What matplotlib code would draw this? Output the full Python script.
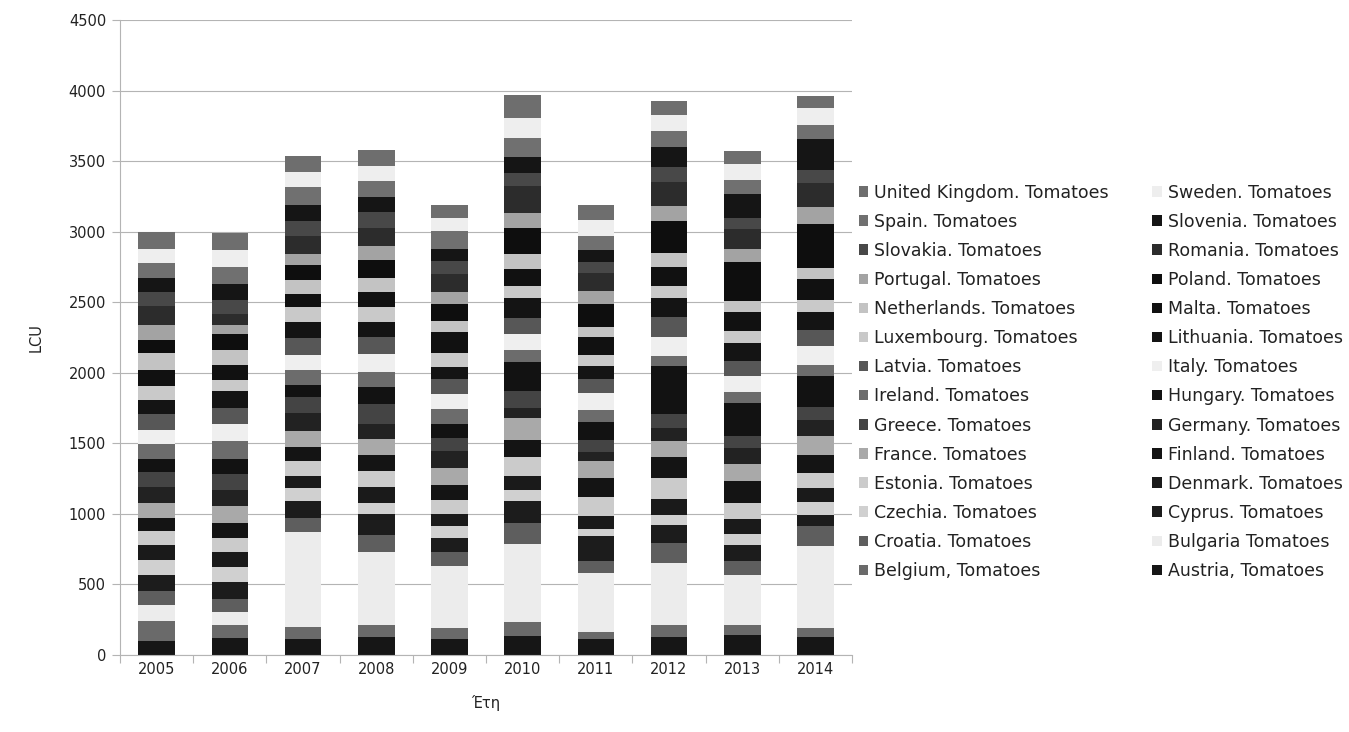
import matplotlib
matplotlib.use("Agg")
import matplotlib.pyplot as plt
import numpy as np

# ── Data (LCU, tomatoes, stacked bottom → top) ────────────────
years = ["2005", "2006", "2007", "2008", "2009", "2010", "2011", "2012", "2013", "2014"]

austria     = [100, 120, 110, 125, 110, 135, 110, 130, 140, 130]
belgium     = [140,  90,  90,  85,  80, 100,  50,  80,  70,  60]
bulgaria    = [115,  95, 670, 520, 440, 555, 420, 440, 360, 580]
croatia     = [100,  95, 100, 118,  97, 147,  83, 142,  95, 143]
cyprus      = [111, 118, 118, 149, 102, 153, 177, 129, 118,  78]
czechia     = [106, 106,  94,  81,  88,  80,  52,  70,  71,  91]
denmark     = [111, 106,  83, 114,  82, 102,  90, 111, 107, 104]
estonia     = [ 94,  99, 113, 114,  97, 128, 137, 155, 118, 104]
finland     = [ 94, 108,  99, 111, 112, 125, 135, 147, 154, 130]
france      = [108, 118, 113, 111, 114, 153, 118, 111, 118, 130]
germany     = [111, 111, 123, 109, 122,  75,  64,  96, 118, 117]
greece      = [106, 118, 118, 142,  97, 120,  90,  98,  83,  91]
hungary     = [ 94, 106,  83, 118,  97, 206, 123, 341, 237, 221]
ireland     = [106, 130, 106, 111, 105,  80,  90,  72,  76,  78]
italy       = [101, 118, 106, 126, 107, 115, 118, 135, 114, 130]
latvia      = [111, 111, 118, 118, 105, 115,  99, 137, 107, 117]
lithuania   = [101, 125, 118, 111,  85, 139,  90, 137, 123, 125]
luxembourg  = [ 94,  78, 101, 102, 102,  86,  83,  83,  90,  88]
malta       = [118, 104,  94, 107, 146, 123, 125, 135, 130, 145]
netherlands = [118, 108,  99,  99,  80, 106,  71,  98,  83,  78]
poland      = [ 94, 111, 106, 130, 122, 186, 165, 228, 272, 312]
portugal    = [104,  64,  78,  95,  85, 106,  87, 109,  95, 122]
romania     = [137,  78, 128, 130, 122, 186, 130, 168, 142, 174]
slovakia    = [ 95, 101, 109, 111,  93,  98,  76, 103,  76,  86]
slovenia    = [100, 111, 111, 109,  90, 112,  90, 147, 173, 221]
spain       = [108, 118, 125, 111, 122, 136,  94, 111,  95, 104]
sweden      = [100, 125, 111, 107,  97, 139, 118, 111, 118, 117]
uk          = [118, 120, 111, 114,  93, 165, 106, 103,  88,  86]

labels = [
    "Austria, Tomatoes", "Belgium, Tomatoes", "Bulgaria Tomatoes", "Croatia. Tomatoes",
    "Cyprus. Tomatoes", "Czechia. Tomatoes", "Denmark. Tomatoes", "Estonia. Tomatoes",
    "Finland. Tomatoes", "France. Tomatoes", "Germany. Tomatoes", "Greece. Tomatoes",
    "Hungary. Tomatoes", "Ireland. Tomatoes", "Italy. Tomatoes", "Latvia. Tomatoes",
    "Lithuania. Tomatoes", "Luxembourg. Tomatoes", "Malta. Tomatoes", "Netherlands. Tomatoes",
    "Poland. Tomatoes", "Portugal. Tomatoes", "Romania. Tomatoes", "Slovakia. Tomatoes",
    "Slovenia. Tomatoes", "Spain. Tomatoes", "Sweden. Tomatoes", "United Kingdom. Tomatoes",
]

series = [austria, belgium, bulgaria, croatia, cyprus, czechia, denmark, estonia,
          finland, france, germany, greece, hungary, ireland, italy, latvia,
          lithuania, luxembourg, malta, netherlands, poland, portugal, romania,
          slovakia, slovenia, spain, sweden, uk]

# greyscale fills, same order as the series
shades = [
    "#161616", "#6a6a6a", "#ececec", "#5e5e5e", "#1c1c1c", "#d0d0d0", "#1a1a1a",
    "#cbcbcb", "#141414", "#a9a9a9", "#222222", "#444444", "#121212", "#6c6c6c",
    "#efefef", "#575757", "#141414", "#c9c9c9", "#111111", "#c3c3c3", "#0e0e0e",
    "#a3a3a3", "#2c2c2c", "#484848", "#151515", "#707070", "#eeeeee", "#6e6e6e",
]

GRID = "#b4b4b4"
TEXT = "#222222"

fig = plt.figure(figsize=(13.49, 7.32), dpi=100, facecolor="white")
ax = fig.add_axes([120 / 1349, 77 / 732, 732 / 1349, 635 / 732])

x = np.arange(len(years))
bottom = np.zeros(len(years))
handles = []
for vals, lab, col in zip(series, labels, shades):
    h = ax.bar(x, vals, 0.5, bottom=bottom, color=col, linewidth=0, label=lab, zorder=2)
    bottom += np.array(vals)
    handles.append(h)

ax.set_ylim(0, 4500)
ax.set_xlim(-0.5, len(years) - 0.5)
ax.set_yticks(range(0, 4501, 500))
ax.yaxis.grid(True, color=GRID, linewidth=0.8)
ax.set_axisbelow(True)

# ticks on the category boundaries, year labels centred under the bars
ax.set_xticks(np.arange(-0.5, len(years), 1))
ax.set_xticklabels([])
ax.set_xticks(x, minor=True)
ax.set_xticklabels(years, minor=True)
ax.tick_params(axis="x", which="minor", length=0, pad=5, labelsize=10.5, labelcolor=TEXT)
ax.tick_params(axis="x", which="major", length=6, color=GRID)
ax.tick_params(axis="y", length=6, color=GRID, labelsize=10.5, labelcolor=TEXT, pad=4)

for side in ["top", "right"]:
    ax.spines[side].set_visible(False)
for side in ["left", "bottom"]:
    ax.spines[side].set_color(GRID)

ax.set_ylabel("LCU", fontsize=10.5, color=TEXT, labelpad=18)
ax.set_xlabel("Έτη", fontsize=10.5, color=TEXT, labelpad=13)

# legend: reversed order, read row by row across two columns
rev = handles[::-1]
order = rev[0::2] + rev[1::2]
fig.legend(handles=order, ncol=2, loc="upper left",
           bbox_to_anchor=(843 / 1349, 1 - 168 / 732),
           frameon=False, fontsize=12.5, handlelength=0.55, handleheight=0.55,
           handletextpad=0.35, labelspacing=0.64, columnspacing=2.5,
           labelcolor=TEXT)

fig.savefig("out.png", dpi=100, facecolor="white")
